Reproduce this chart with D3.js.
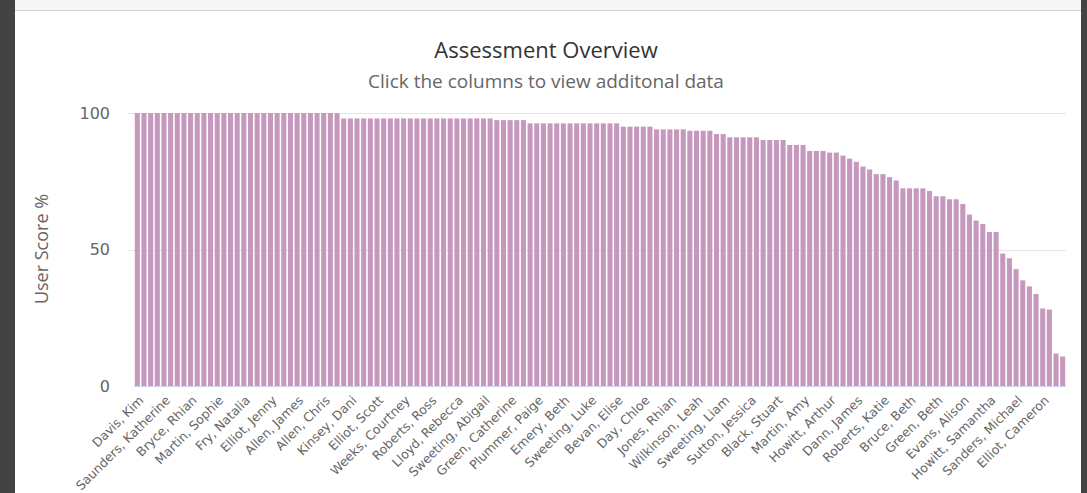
<!DOCTYPE html>
<html>
<head>
<meta charset="utf-8">
<script src="https://cdn.jsdelivr.net/npm/d3@7"></script>
<style>
  html, body { margin: 0; padding: 0; background: #fff; }
  svg { display: block; }
</style>
</head>
<body>
<div id="chart"></div>
<script>
// every 4th category gets a label on the axis
var tickLabels = [
  "Davis, Kim", "Saunders, Katherine", "Bryce, Rhian", "Martin, Sophie", "Fry, Natalia",
  "Elliot, Jenny", "Allen, James", "Allen, Chris", "Kinsey, Dani", "Elliot, Scott",
  "Weeks, Courtney", "Roberts, Ross", "Lloyd, Rebecca", "Sweeting, Abigail", "Green, Catherine",
  "Plummer, Paige", "Emery, Beth", "Sweeting, Luke", "Bevan, Elise", "Day, Chloe",
  "Jones, Rhian", "Wilkinson, Leah", "Sweeting, Liam", "Sutton, Jessica", "Black, Stuart",
  "Martin, Amy", "Howitt, Arthur", "Dann, James", "Roberts, Katie", "Bruce, Beth",
  "Green, Beth", "Evans, Alison", "Howitt, Samantha", "Sanders, Michael", "Elliot, Cameron"
];

var scores = [
  100, 100, 100, 100, 100, 100, 100, 100, 100, 100,
  100, 100, 100, 100, 100, 100, 100, 100, 100, 100,
  100, 100, 100, 100, 100, 100, 100, 100, 100, 100,
  100, 98, 98, 98, 98, 98, 98, 98, 98, 98,
  98, 98, 98, 98, 98, 98, 98, 98, 98, 98,
  98, 98, 98, 98, 97.4, 97.4, 97.4, 97.4, 97.4, 96.2,
  96.2, 96.2, 96.2, 96.2, 96.2, 96.2, 96.2, 96.2, 96.2, 96.2,
  96.2, 96.2, 96.2, 95, 95, 95, 95, 95, 94, 94,
  94, 94, 94, 93.5, 93.5, 93.5, 93.5, 92.3, 92.3, 91.1,
  91.1, 91.1, 91.1, 91.1, 90.1, 90.1, 90.1, 90.1, 88.3, 88.3,
  88.3, 86.1, 86.1, 86.1, 85.5, 85.5, 84.4, 83.3, 82.1, 80.4,
  79.3, 77.6, 77.6, 76.5, 75.3, 72.4, 72.4, 72.4, 72.4, 71.4,
  69.5, 69.5, 68.4, 68.4, 66.7, 62.8, 60.6, 59.3, 56.4, 56.4,
  48.5, 46.8, 42.8, 38.7, 36.5, 33.7, 28.4, 28.0, 11.9, 10.8
];

var yTicks = [0, 50, 100];

var width = 1087, height = 493;
var plot = {left: 134, right: 1066, top: 113, bottom: 386};

var svg = d3.select("#chart").append("svg")
    .attr("width", width)
    .attr("height", height)
    .style("font-family", "'Open Sans', sans-serif");

// page frame around the chart panel
svg.append("rect").attr("x", 0).attr("y", 0).attr("width", width).attr("height", height).attr("fill", "#fff");
svg.append("rect").attr("x", 0).attr("y", 0).attr("width", width).attr("height", 10).attr("fill", "#f7f7f7");
svg.append("line").attr("x1", 0).attr("x2", width).attr("y1", 10.5).attr("y2", 10.5).attr("stroke", "#d4d4d4");
svg.append("rect").attr("x", 0).attr("y", 0).attr("width", 15).attr("height", height).attr("fill", "#434343");
svg.append("rect").attr("x", 1081).attr("y", 0).attr("width", 6).attr("height", height).attr("fill", "#434343");

var x = d3.scaleBand()
    .domain(d3.range(scores.length))
    .range([plot.left, plot.right])
    .paddingInner(0.24)
    .paddingOuter(0.12);

var y = d3.scaleLinear()
    .domain([0, 100])
    .range([plot.bottom, plot.top]);

// titles
svg.append("text")
    .attr("x", 546).attr("y", 58)
    .attr("text-anchor", "middle")
    .style("font-size", "22px")
    .style("fill", "#333")
    .text("Assessment Overview");

svg.append("text")
    .attr("x", 546).attr("y", 88)
    .attr("text-anchor", "middle")
    .style("font-size", "19px")
    .style("fill", "#666")
    .text("Click the columns to view additonal data");

// grid lines
svg.append("g")
    .selectAll("line")
    .data(yTicks.filter(function(d) { return d > 0; }))
    .enter().append("line")
      .attr("x1", plot.left - 6).attr("x2", plot.right)
      .attr("y1", function(d) { return Math.round(y(d)) + 0.5; })
      .attr("y2", function(d) { return Math.round(y(d)) + 0.5; })
      .attr("stroke", "#e6e6e6");

// y axis
var yAxis = svg.append("g")
    .attr("transform", "translate(110,0)")
    .call(d3.axisLeft(y).tickValues(yTicks).tickSize(0).tickPadding(0));
yAxis.select(".domain").remove();
yAxis.selectAll("text")
    .style("font-family", "'DejaVu Sans', Verdana, sans-serif")
    .style("font-size", "16px")
    .style("fill", "#666");

svg.append("text")
    .attr("transform", "translate(48,249) rotate(-90)")
    .attr("text-anchor", "middle")
    .style("font-size", "18px")
    .style("fill", "#666")
    .text("User Score %");

// bars
svg.append("g")
    .selectAll("rect")
    .data(scores)
    .enter().append("rect")
      .attr("x", function(d, i) { return x(i); })
      .attr("width", x.bandwidth())
      .attr("y", function(d) { return y(d); })
      .attr("height", function(d) { return y(0) - y(d); })
      .attr("fill", "#c698be");

// x axis
var xAxis = svg.append("g")
    .attr("transform", "translate(0," + plot.bottom + ")")
    .call(d3.axisBottom(x)
      .tickValues(d3.range(0, scores.length, 4))
      .tickSize(0)
      .tickFormat(function(i) { return tickLabels[i / 4]; }));
xAxis.select(".domain")
    .attr("d", "M" + plot.left + ",0.5H" + plot.right)
    .attr("stroke", "#ccd6eb");
xAxis.selectAll("text")
    .attr("text-anchor", "end")
    .attr("transform", "translate(4,12) rotate(-45)")
    .attr("dy", "0.35em")
    .attr("y", 0)
    .style("font-family", "'DejaVu Sans', Verdana, sans-serif")
    .style("font-size", "12.5px")
    .style("fill", "#666");
</script>
</body>
</html>
